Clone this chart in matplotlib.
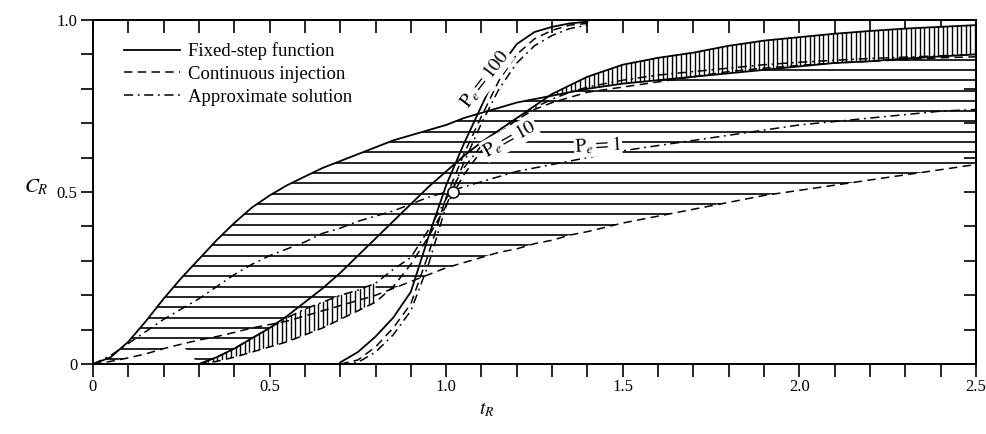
import numpy as np
import matplotlib
matplotlib.use("Agg")
import matplotlib.pyplot as plt
from matplotlib.lines import Line2D
from matplotlib.path import Path
from matplotlib.ticker import MultipleLocator, FuncFormatter

plt.rcParams['font.family'] = ['Liberation Serif', 'DejaVu Serif']
plt.rcParams['mathtext.fontset'] = 'stix'

nan = np.nan

# reduced time t_R
t_r = [0, 0.05, 0.1, 0.15, 0.2, 0.25, 0.3, 0.35, 0.4, 0.45, 0.5, 0.55, 0.6, 0.65,
       0.7, 0.75, 0.8, 0.85, 0.9, 0.95, 1.0, 1.05, 1.1, 1.15, 1.2, 1.25, 1.3, 1.35,
       1.4, 1.5, 1.6, 1.7, 1.8, 1.9, 2.0, 2.1, 2.2, 2.3, 2.4, 2.5]

# Pe = 1
fixed_pe1 = [0, 0.02, 0.065, 0.125, 0.19, 0.25, 0.305, 0.36, 0.41, 0.455, 0.49, 0.52, 0.545, 0.57,
             0.59, 0.61, 0.63, 0.65, 0.665, 0.68, 0.695, 0.715, 0.73, 0.745, 0.76, 0.77, 0.78, 0.79,
             0.80, 0.815, 0.825, 0.835, 0.845, 0.855, 0.865, 0.875, 0.88, 0.888, 0.894, 0.90]
cont_pe1 = [0, 0.008, 0.018, 0.03, 0.045, 0.058, 0.07, 0.08, 0.092, 0.105, 0.115, 0.125, 0.14, 0.155,
            0.17, 0.185, 0.2, 0.22, 0.24, 0.26, 0.28, 0.295, 0.31, 0.325, 0.335, 0.35, 0.36, 0.375,
            0.385, 0.41, 0.43, 0.45, 0.47, 0.49, 0.505, 0.52, 0.535, 0.55, 0.565, 0.58]
approx_pe1 = [0, 0.025, 0.06, 0.095, 0.13, 0.16, 0.19, 0.225, 0.26, 0.29, 0.315, 0.335, 0.355, 0.38,
              0.395, 0.415, 0.43, 0.445, 0.465, 0.485, 0.50, 0.515, 0.53, 0.545, 0.56, 0.57, 0.58, 0.59,
              0.60, 0.62, 0.635, 0.65, 0.665, 0.68, 0.695, 0.705, 0.715, 0.725, 0.735, 0.74]

# Pe = 10
fixed_pe10 = [nan, nan, nan, nan, nan, nan, 0, 0.02, 0.045, 0.075, 0.105, 0.14, 0.18, 0.22,
              0.265, 0.315, 0.365, 0.415, 0.465, 0.515, 0.56, 0.605, 0.645, 0.68, 0.715, 0.75, 0.785, 0.81,
              0.835, 0.87, 0.89, 0.905, 0.925, 0.94, 0.95, 0.96, 0.968, 0.975, 0.98, 0.985]
cont_pe10 = [nan, nan, nan, nan, nan, nan, 0, 0.008, 0.02, 0.035, 0.05, 0.065, 0.085, 0.105,
             0.13, 0.155, 0.18, 0.225, 0.29, 0.37, 0.46, 0.55, 0.62, 0.67, 0.71, 0.74, 0.76, 0.775,
             0.79, 0.805, 0.82, 0.835, 0.85, 0.86, 0.868, 0.875, 0.88, 0.885, 0.89, 0.893]
approx_pe10 = [nan, nan, nan, nan, nan, nan, 0, 0.02, 0.045, 0.075, 0.105, 0.135, 0.16, 0.18,
               0.2, 0.215, 0.235, 0.275, 0.31, 0.39, 0.48, 0.57, 0.635, 0.68, 0.715, 0.745, 0.77, 0.79,
               0.805, 0.825, 0.84, 0.85, 0.86, 0.87, 0.877, 0.883, 0.888, 0.892, 0.896, 0.9]

# Pe = 100
fixed_pe100 = [nan, nan, nan, nan, nan, nan, nan, nan, nan, nan, nan, nan, nan, nan,
               0.005, 0.035, 0.08, 0.135, 0.21, 0.37, 0.52, 0.64, 0.75, 0.86, 0.93, 0.965, 0.98, 0.99,
               0.995, nan, nan, nan, nan, nan, nan, nan, nan, nan, nan, nan]
cont_pe100 = [nan, nan, nan, nan, nan, nan, nan, nan, nan, nan, nan, nan, nan, nan,
              0, 0.012, 0.05, 0.105, 0.175, 0.32, 0.485, 0.61, 0.72, 0.825, 0.9, 0.945, 0.97, 0.985,
              0.99, nan, nan, nan, nan, nan, nan, nan, nan, nan, nan, nan]
approx_pe100 = [nan, nan, nan, nan, nan, nan, nan, nan, nan, nan, nan, nan, nan, nan,
                0, 0.005, 0.035, 0.085, 0.155, 0.29, 0.46, 0.585, 0.70, 0.80, 0.875, 0.925, 0.955, 0.975,
                0.985, nan, nan, nan, nan, nan, nan, nan, nan, nan, nan, nan]

mid_point = ([1.02], [0.5])

legend_labels = ["Fixed-step function", "Continuous injection", "Approximate solution"]

T = np.array(t_r)
S1, D1, A1 = np.array(fixed_pe1), np.array(cont_pe1), np.array(approx_pe1)
S10, D10, A10 = np.array(fixed_pe10), np.array(cont_pe10), np.array(approx_pe10)
S100, D100, A100 = np.array(fixed_pe100), np.array(cont_pe100), np.array(approx_pe100)

fig = plt.figure(figsize=(9.87, 4.34), dpi=100)
ax = fig.add_axes([0.0942, 0.161, 0.8946, 0.793])
ax.set_xlim(0, 2.5)
ax.set_ylim(0, 1.0)

dash = (0, (5.5, 3.5))
dashdot = (0, (6, 3, 1.2, 3))
lw = 1.3

# horizontal hatching between Pe=1 curves
band = (T >= 0.3) & (T <= 0.8)
lower_h = np.where(band, np.fmin(D1, A10), D1)
h_region = ax.fill_between(T, lower_h, S1, facecolor='none', edgecolor='none')
hl = ax.hlines(np.arange(0.015, 0.92, 0.03), 0, 2.5, colors='k', lw=1.2, zorder=1)
hl.set_clip_path(Path.make_compound_path(*h_region.get_paths()), ax.transData)

# vertical hatching (Pe = 10 bands)
v1 = ax.fill_between(T, D10, A10, where=band, facecolor='white', edgecolor='none', zorder=2)
v2 = ax.fill_between(T, S1, S10, where=S10 >= S1, interpolate=True,
                     facecolor='white', edgecolor='none', zorder=2)
vpath = Path.make_compound_path(*(v1.get_paths() + v2.get_paths()))
vl = ax.vlines(np.arange(0.3, 2.5, 0.013), 0, 1, colors='k', lw=1.0, zorder=3)
vl.set_clip_path(vpath, ax.transData)

for fixed, cont, approx in [(S1, D1, A1), (S10, D10, A10), (S100, D100, A100)]:
    ax.plot(T, fixed, color='k', lw=lw, zorder=4)
    ax.plot(T, cont, color='k', lw=1.1, linestyle=dash, zorder=4)
    ax.plot(T, approx, color='k', lw=1.1, linestyle=dashdot, zorder=4)

ax.plot(*mid_point, 'o', ms=8, mfc='white', mec='k', mew=1.1, zorder=5)

# curve labels
lab = dict(ha='center', va='center', fontsize=14, zorder=6,
           bbox=dict(facecolor='white', edgecolor='none', pad=0.5))
ax.text(1.11, 0.83, r'$\mathrm{P}_e = 100$', rotation=52, **lab)
ax.text(1.18, 0.655, r'$\mathrm{P}_e = 10$', rotation=29, **lab)
ax.text(1.43, 0.635, r'$\mathrm{P}_e = 1$', rotation=3, **lab)

# legend
handles = [Line2D([], [], color='k', lw=lw),
           Line2D([], [], color='k', lw=1.1, linestyle=dash),
           Line2D([], [], color='k', lw=1.1, linestyle=dashdot)]
ax.legend(handles, legend_labels, loc='upper left', bbox_to_anchor=(0.035, 0.935),
          frameon=False, fontsize=13.5, handlelength=3.0, handletextpad=0.4,
          labelspacing=0.3, borderpad=0, borderaxespad=0)

# ticks: left/bottom outward, top/right inward
fmt = FuncFormatter(lambda v, p: ('0' if abs(v) < 1e-9 else '%.1f' % v)
                    if abs(v * 2 - round(v * 2)) < 1e-6 else '')
ax.xaxis.set_major_locator(MultipleLocator(0.1))
ax.yaxis.set_major_locator(MultipleLocator(0.1))
ax.xaxis.set_major_formatter(fmt)
ax.yaxis.set_major_formatter(fmt)
ax.tick_params(direction='out', length=9, width=1.2, labelsize=12, pad=2)

top = ax.secondary_xaxis('top')
top.xaxis.set_major_locator(MultipleLocator(0.1))
top.tick_params(direction='in', length=9, width=1.2, labeltop=False)
right = ax.secondary_yaxis('right')
right.yaxis.set_major_locator(MultipleLocator(0.1))
right.tick_params(direction='in', length=9, width=1.2, labelright=False)

for sp in list(ax.spines.values()) + [top.spines['top'], right.spines['right']]:
    sp.set_linewidth(1.4)

fig.text(0.037, 0.567, r'$C_R$', ha='center', va='center', fontsize=15)
fig.text(0.493, 0.055, r'$t_R$', ha='center', va='center', fontsize=14)

fig.savefig('out.png', dpi=100)
